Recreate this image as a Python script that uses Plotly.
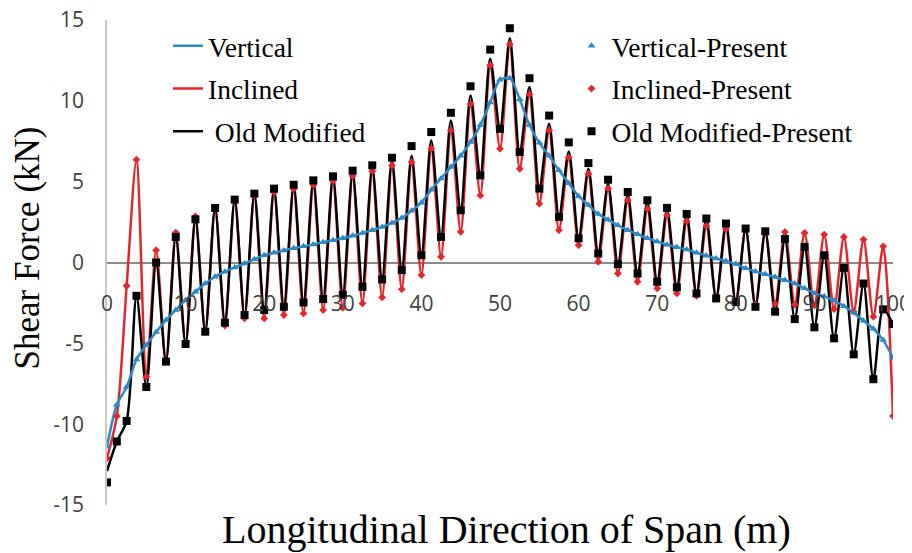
import plotly.graph_objects as go

# span positions (m), one point every 1.25 m
span = [i * 1.25 for i in range(81)]

vertical = [
    -11.4, -8.8, -7.7, -6.0, -5.1, -4.3, -3.56, -2.94, -2.33, -1.81,
    -1.3, -0.88, -0.57, -0.31, -0.06, 0.2, 0.45, 0.6, 0.75, 0.88,
    1.0, 1.12, 1.25, 1.38, 1.5, 1.65, 1.82, 2.0, 2.2, 2.45,
    2.75, 3.2, 3.7, 4.5, 5.2, 5.9, 6.6, 7.45, 8.5, 9.9,
    11.3, 11.4, 10.1, 8.5, 7.4, 6.6, 5.7, 4.9, 4.1, 3.55,
    3.0, 2.65, 2.3, 2.0, 1.75, 1.5, 1.3, 1.1, 0.95, 0.8,
    0.6, 0.42, 0.25, 0.1, -0.1, -0.35, -0.55, -0.72, -0.9, -1.1,
    -1.3, -1.6, -1.9, -2.1, -2.35, -2.7, -3.1, -3.6, -4.1, -4.8,
    -5.9,
]

inclined = [
    -12.1, -9.5, -1.44, 6.36, -7.06, 0.76, -6.1, 1.85, -5.0, 2.85,
    -4.3, 3.4, -3.9, 3.85, -3.45, 4.15, -3.46, 4.35, -3.25, 4.55,
    -3.15, 4.8, -2.94, 5.05, -2.8, 5.35, -2.53, 5.65, -2.16, 6.0,
    -1.65, 6.2, -0.78, 7.04, 0.35, 8.17, 1.9, 9.8, 4.15, 12.2,
    7.04, 13.5, 5.8, 10.4, 3.64, 8.17, 2.0, 6.5, 1.07, 5.49,
    0.04, 4.57, -0.68, 3.85, -1.19, 3.33, -1.6, 2.92, -1.91, 2.55,
    -2.06, 2.26, -2.25, 2.06, -2.45, 2.05, -2.6, 1.9, -2.55, 1.89,
    -2.6, 1.83, -2.65, 1.73, -2.88, 1.58, -3.04, 1.42, -3.35, 1.0,
    -9.5,
]

old_modified = [
    -12.9, -11.07, -9.8, -2.06, -7.7, 0.0, -6.13, 1.58, -5.04, 2.67,
    -4.28, 3.37, -3.72, 3.89, -3.25, 4.26, -2.94, 4.57, -2.74, 4.81,
    -2.47, 5.08, -2.26, 5.33, -2.0, 5.6, -1.5, 5.9, -1.05, 6.3,
    -0.47, 6.6, 0.45, 7.55, 1.58, 8.78, 3.23, 10.33, 5.39, 12.6,
    8.27, 13.87, 6.83, 10.85, 4.57, 8.58, 2.82, 6.87, 1.5, 5.8,
    0.56, 4.85, -0.1, 4.2, -0.68, 3.75, -1.19, 3.3, -1.54, 2.95,
    -1.91, 2.7, -2.22, 2.41, -2.45, 2.1, -2.74, 1.93, -3.04, 1.45,
    -3.5, 0.97, -4.01, 0.45, -4.69, -0.33, -5.68, -1.3, -7.22, -2.9,
    -3.8,
]

old_modified_present = [
    -13.6, -11.07, -9.8, -2.06, -7.7, 0.0, -6.13, 1.58, -5.04, 2.67,
    -4.28, 3.37, -3.72, 3.89, -3.25, 4.26, -2.94, 4.57, -2.74, 4.81,
    -2.47, 5.08, -2.26, 5.33, -2.0, 5.68, -1.5, 6.01, -1.05, 6.48,
    -0.47, 7.2, 0.45, 8.07, 1.58, 9.26, 3.23, 10.9, 5.39, 13.17,
    8.27, 14.49, 6.83, 11.4, 4.57, 9.09, 2.82, 7.43, 1.5, 6.15,
    0.56, 5.12, -0.1, 4.36, -0.68, 3.85, -1.19, 3.38, -1.54, 3.0,
    -1.91, 2.72, -2.22, 2.41, -2.45, 2.1, -2.74, 1.93, -3.04, 1.45,
    -3.5, 0.97, -4.01, 0.45, -4.69, -0.33, -5.68, -1.3, -7.22, -2.9,
    -3.8,
]

x_ticks = [0, 10, 20, 30, 40, 50, 60, 70, 80, 90, 100]
y_ticks = [-15, -10, -5, 0, 5, 10, 15]
y_tick_labels = ['-15', '-10', '-5', '0', '5', '10', '15']

BLUE = '#2B8AC6'
RED = '#E3262B'
BLACK = '#000000'
SERIF = 'Liberation Serif, Times New Roman, serif'
TICKFONT = dict(family='Open Sans, sans-serif', size=21, color='#404040')

fig = go.Figure()

# smooth lines
fig.add_trace(go.Scatter(
    x=span, y=inclined, mode='lines', name='Inclined',
    line=dict(color=RED, width=2.5, shape='spline', smoothing=0.8),
    legend='legend', legendgroup='l2', legendrank=2
))
fig.add_trace(go.Scatter(
    x=span, y=old_modified, mode='lines', name=' Old Modified',
    line=dict(color=BLACK, width=2.5, shape='spline', smoothing=0.8),
    legend='legend', legendgroup='l3', legendrank=3
))
fig.add_trace(go.Scatter(
    x=span, y=vertical, mode='lines', name='Vertical',
    line=dict(color=BLUE, width=2.5, shape='spline', smoothing=0.8),
    legend='legend', legendgroup='l1', legendrank=1
))

# "present" markers
fig.add_trace(go.Scatter(
    x=span, y=inclined, mode='markers', name='Inclined-Present',
    marker=dict(color=RED, size=6, symbol='diamond'),
    legend='legend2', legendgroup='m2', legendrank=2
))
fig.add_trace(go.Scatter(
    x=span, y=vertical, mode='markers', name='Vertical-Present',
    marker=dict(color=BLUE, size=7, symbol='triangle-up'),
    legend='legend2', legendgroup='m1', legendrank=1
))
fig.add_trace(go.Scatter(
    x=span, y=old_modified_present, mode='markers', name='Old Modified-Present',
    marker=dict(color=BLACK, size=8, symbol='square'),
    legend='legend2', legendgroup='m3', legendrank=3
))

fig.update_layout(
    width=904, height=545,
    margin=dict(l=99, r=19, t=12, b=48, autoexpand=False),
    plot_bgcolor='white', paper_bgcolor='white',
    font=dict(family=SERIF, color='#000000'),
    showlegend=True,
    legend=dict(
        x=0.0776, y=0.997, xanchor='left', yanchor='top',
        bgcolor='rgba(0,0,0,0)', font=dict(family=SERIF, size=27.5),
        tracegroupgap=4, itemwidth=30
    ),
    legend2=dict(
        x=0.591, y=0.997, xanchor='left', yanchor='top',
        bgcolor='rgba(0,0,0,0)', font=dict(family=SERIF, size=27.5),
        tracegroupgap=4, itemwidth=30
    ),
    xaxis=dict(
        range=[0, 100], tickvals=x_ticks,
        anchor='free', position=0.5, showline=False, showgrid=False,
        zeroline=False, ticks='', ticklabelstandoff=26, tickfont=TICKFONT,
        ticklabeloverflow='allow'
    ),
    yaxis=dict(
        range=[-15, 15], tickvals=y_ticks, ticktext=y_tick_labels,
        showgrid=False, zeroline=True, zerolinecolor='#8a8a8a', zerolinewidth=1.5,
        showline=True, linecolor='#c8c8c8', linewidth=1.5, ticks='',
        ticklabelstandoff=17, tickfont=TICKFONT, ticklabeloverflow='allow'
    ),
    annotations=[
        dict(text='Longitudinal Direction of Span (m)', xref='paper', yref='paper',
             x=0.5, y=0, xshift=6, yshift=-24, xanchor='center', yanchor='middle',
             showarrow=False, font=dict(family=SERIF, size=40, color='#000000')),
        dict(text='Shear Force (kN)', xref='paper', yref='paper', textangle=-90,
             x=0, y=0.5, xshift=-80, yshift=14, xanchor='center', yanchor='middle',
             showarrow=False, font=dict(family=SERIF, size=35, color='#000000')),
    ],
)

fig.write_html("out.html")
